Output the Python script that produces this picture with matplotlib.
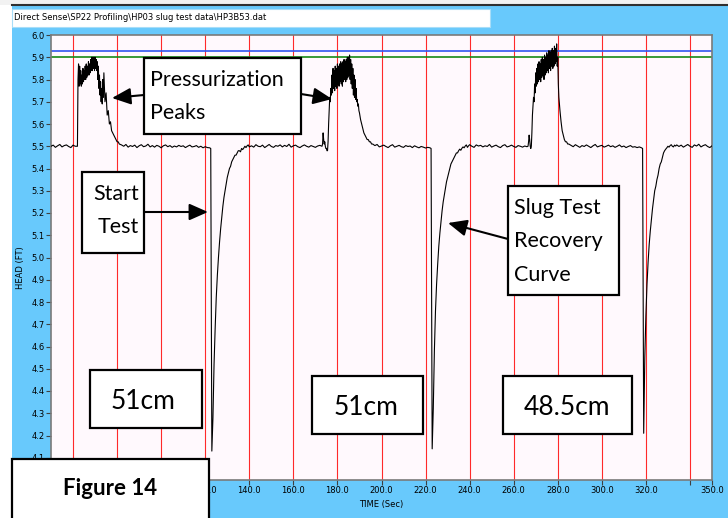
import matplotlib.pyplot as plt
from matplotlib.patches import Rectangle, FancyArrowPatch
import numpy as np

W, H = 728, 518

# head readings (ft) off the logger screen, one list per stretch of the record
base_1 = [5.500, 5.505, 5.495, 5.502, 5.508, 5.497, 5.503, 5.506, 5.499, 5.494, 5.505, 5.500]
peak_1 = [5.50, 5.80, 5.87, 5.77, 5.86, 5.78, 5.84, 5.77, 5.82, 5.78,
          5.85, 5.79, 5.84, 5.80, 5.86, 5.80, 5.87, 5.81, 5.86, 5.82,
          5.88, 5.82, 5.87, 5.83, 5.89, 5.84, 5.90, 5.84, 5.90, 5.85,
          5.90, 5.84, 5.90, 5.85, 5.89, 5.84, 5.88, 5.80, 5.86, 5.76,
          5.82, 5.73, 5.79, 5.70, 5.76, 5.69, 5.80, 5.72]
fall_1 = [5.83, 5.70, 5.74, 5.64, 5.66, 5.60, 5.61, 5.57, 5.56, 5.55,
          5.54, 5.53, 5.52, 5.52, 5.51]
base_2 = [5.506, 5.500, 5.508, 5.496, 5.503, 5.499, 5.505, 5.494, 5.502, 5.507,
          5.498, 5.501, 5.509, 5.497, 5.503, 5.496, 5.504, 5.500, 5.493, 5.502,
          5.506, 5.498, 5.503, 5.495, 5.501, 5.497, 5.504, 5.499, 5.502, 5.494,
          5.500, 5.505, 5.497, 5.499, 5.503, 5.495, 5.500, 5.493, 5.498, 5.494, 5.493]
slug_1 = [5.49, 4.13, 4.28, 4.52, 4.68, 4.82, 4.92, 5.00, 5.07, 5.13,
          5.18, 5.23, 5.27, 5.30, 5.33, 5.36, 5.38, 5.40, 5.41, 5.43,
          5.44, 5.45, 5.46, 5.46, 5.47, 5.48, 5.48, 5.475, 5.49, 5.485,
          5.492, 5.50, 5.494, 5.502, 5.506, 5.497]
base_3 = [5.502, 5.496, 5.507, 5.500, 5.498, 5.505, 5.494, 5.501, 5.508, 5.499,
          5.495, 5.503, 5.500, 5.506, 5.497, 5.504, 5.499, 5.509, 5.496, 5.502,
          5.505, 5.498, 5.494, 5.501, 5.506, 5.500, 5.496, 5.503, 5.499, 5.495,
          5.501, 5.504, 5.500]
peak_2 = [5.51, 5.56, 5.53, 5.51, 5.52, 5.50, 5.49, 5.49, 5.48, 5.48,
          5.52, 5.60, 5.66, 5.72, 5.70, 5.76, 5.73, 5.82, 5.74, 5.85,
          5.76, 5.84, 5.75, 5.86, 5.77, 5.85, 5.76, 5.87, 5.78, 5.86,
          5.77, 5.87, 5.79, 5.88, 5.78, 5.87, 5.77, 5.88, 5.79, 5.89,
          5.80, 5.88, 5.79, 5.89, 5.80, 5.90, 5.81, 5.90, 5.82, 5.91,
          5.80, 5.89, 5.78, 5.87, 5.76, 5.85, 5.73, 5.82, 5.72, 5.80,
          5.71, 5.76, 5.70, 5.71, 5.68, 5.69, 5.66]
fall_2 = [5.65, 5.62, 5.60, 5.58, 5.56, 5.55, 5.54, 5.53, 5.53, 5.52, 5.52, 5.51, 5.51]
base_4 = [5.503, 5.508, 5.497, 5.501, 5.505, 5.499, 5.494, 5.502, 5.507, 5.496,
          5.500, 5.504, 5.498, 5.495, 5.503, 5.499, 5.501, 5.494, 5.502, 5.497,
          5.493, 5.499, 5.496, 5.492, 5.495, 5.493]
slug_2 = [5.49, 4.14, 4.32, 4.58, 4.76, 4.88, 4.97, 5.05, 5.11, 5.16,
          5.21, 5.25, 5.28, 5.31, 5.34, 5.36, 5.38, 5.40, 5.42, 5.43,
          5.44, 5.45, 5.46, 5.47, 5.47, 5.48, 5.487, 5.482, 5.491, 5.497,
          5.493, 5.501, 5.506, 5.495, 5.502, 5.507]
base_5 = [5.500, 5.495, 5.506, 5.501, 5.504, 5.497, 5.502, 5.499, 5.508, 5.496,
          5.501, 5.505, 5.498, 5.494, 5.503, 5.507, 5.497, 5.500, 5.505, 5.499,
          5.495, 5.503, 5.500, 5.496, 5.501, 5.498]
peak_3 = [5.50, 5.52, 5.55, 5.53, 5.50, 5.49, 5.50, 5.56, 5.64, 5.68,
          5.72, 5.70, 5.78, 5.74, 5.83, 5.77, 5.85, 5.78, 5.87, 5.79,
          5.88, 5.80, 5.87, 5.79, 5.89, 5.81, 5.90, 5.82, 5.89, 5.80,
          5.91, 5.82, 5.90, 5.83, 5.92, 5.84, 5.91, 5.83, 5.93, 5.85,
          5.92, 5.84, 5.93, 5.86, 5.94, 5.85, 5.93, 5.86, 5.95, 5.87,
          5.94, 5.88, 5.96, 5.86, 5.90, 5.78]
fall_3 = [5.72, 5.66, 5.61, 5.57, 5.55, 5.53, 5.52, 5.52, 5.51, 5.51]
base_6 = [5.504, 5.498, 5.507, 5.501, 5.495, 5.503, 5.499, 5.506, 5.500, 5.494,
          5.502, 5.508, 5.497, 5.501, 5.504, 5.496, 5.500, 5.505, 5.498, 5.502,
          5.495, 5.500, 5.506, 5.497, 5.501, 5.494, 5.499, 5.503, 5.496, 5.498,
          5.494, 5.497, 5.493]
slug_3 = [5.49, 4.21, 4.55, 4.74, 4.88, 4.98, 5.06, 5.12, 5.17, 5.22,
          5.26, 5.30, 5.32, 5.35, 5.37, 5.40, 5.42, 5.43, 5.45, 5.47,
          5.48, 5.487, 5.493, 5.500, 5.496, 5.503, 5.507, 5.500, 5.497, 5.505,
          5.501, 5.506]
base_7 = [5.499, 5.505, 5.496, 5.502, 5.508, 5.500, 5.495, 5.506, 5.501, 5.509,
          5.497, 5.503, 5.507, 5.499, 5.494, 5.502]

# start time (s) and sample step (s) of each stretch above
pieceStart = [50.0, 62.0, 74.0, 82.0, 122.5, 141.0, 173.25, 190.0, 197.0,
              222.5, 241.0, 266.5, 280.5, 286.0, 318.5, 335.0]
pieceStep = [1.0, 0.25, 0.5, 1.0, 0.5, 1.0, 0.25, 0.5, 1.0,
             0.5, 1.0, 0.25, 0.5, 1.0, 0.5, 1.0]

limitBlue = 5.93
limitGreen = 5.90

# labels left of 120 s sit under the "Figure 14" box on the screen shot
xTicks = [60, 80, 100, 120, 140, 160, 180, 200, 220, 240, 260, 280, 300, 320, 340, 350]
xTickLabels = ['', '', '', '120.0', '140.0', '160.0', '180.0', '200.0',
               '220.0', '240.0', '260.0', '280.0', '300.0', '320.0', '', '350.0']
yTicks = [4.1, 4.2, 4.3, 4.4, 4.5, 4.6, 4.7, 4.8, 4.9, 5.0,
          5.1, 5.2, 5.3, 5.4, 5.5, 5.6, 5.7, 5.8, 5.9, 6.0]
gridTimes = [60, 80, 100, 120, 140, 160, 180, 200, 220, 240, 260, 280, 300, 320, 340]


def frac(x, y):
    # screen pixel (from top left) -> figure fraction
    return x / W, 1 - y / H


def addBox(fig, x0, y0, x1, y1, face='white', edge='black', lw=1.6, z=5):
    fx, fy = frac(x0, y1)
    fig.add_artist(Rectangle((fx, fy), (x1 - x0) / W, (y1 - y0) / H, transform=fig.transFigure,
                             facecolor=face, edgecolor=edge, lw=lw, zorder=z))


def addText(fig, x, y, s, size, ha='left', weight='normal'):
    fx, fy = frac(x, y)
    fig.text(fx, fy, s, fontsize=size, ha=ha, va='baseline', family='Lato',
             weight=weight, zorder=6)


def addArrow(fig, tail, tip):
    fig.add_artist(FancyArrowPatch(frac(*tail), frac(*tip), transform=fig.transFigure,
                                   arrowstyle='-|>,head_length=0.95,head_width=0.42',
                                   mutation_scale=12, lw=1.5, color='black',
                                   shrinkA=0, shrinkB=0, zorder=6))


def main():
    pieces = [base_1, peak_1, fall_1, base_2, slug_1, base_3, peak_2, fall_2, base_4,
              slug_2, base_5, peak_3, fall_3, base_6, slug_3, base_7]
    times = []
    heads = []
    for t0, dt, vals in zip(pieceStart, pieceStep, pieces):
        times.extend(t0 + dt * np.arange(len(vals)))
        heads.extend(vals)

    fig = plt.figure(figsize=(W / 100, H / 100), dpi=100)
    fig.patch.set_facecolor('#68C9FC')

    # window chrome
    addBox(fig, 0, 0, 12, H, face='white', edge='none', lw=0, z=1)
    addBox(fig, 0, 0, W, 5, face='#F2F2F2', edge='none', lw=0, z=1)
    fig.add_artist(plt.Line2D([12 / W, 1], [1 - 5 / H, 1 - 5 / H], transform=fig.transFigure,
                              color='#303030', lw=1.5, zorder=2))
    addBox(fig, 12, 9, 490, 27, face='white', edge='#A8DDF8', lw=0.8, z=2)
    fx, fy = frac(14, 18)
    fig.text(fx, fy, 'Direct Sense\\SP22 Profiling\\HP03 slug test data\\HP3B53.dat',
             fontsize=6, va='center', zorder=3)

    ax = fig.add_axes([51 / W, 1 - 480 / H, (712 - 51) / W, (480 - 35) / H])
    ax.set_facecolor('#FFF9FD')
    for t in gridTimes:
        ax.axvline(t, color='#FF2A2A', lw=0.8, zorder=1)
    ax.axhline(limitBlue, color='#2F55F0', lw=1.2, zorder=2)
    ax.axhline(limitGreen, color='#178A17', lw=1.2, zorder=2)
    ax.plot(times, heads, color='black', lw=0.8, zorder=3)

    ax.set_xlim(50, 350)
    ax.set_ylim(4.0, 6.0)
    ax.set_xticks(xTicks)
    ax.set_xticklabels(xTickLabels)
    ax.set_yticks(yTicks)
    ax.set_yticklabels(['%.1f' % v for v in yTicks])
    ax.tick_params(labelsize=6, length=3.6, width=0.8, color='#404040', pad=1)
    for s in ax.spines.values():
        s.set_color('#7A7A7A')
        s.set_linewidth(1.2)

    fx, fy = frac(381, 505)
    fig.text(fx, fy, 'TIME (Sec)', fontsize=6, ha='center', va='center')
    fx, fy = frac(20, 268)
    fig.text(fx, fy, 'HEAD (FT)', fontsize=6, ha='center', va='center', rotation=90)

    # callouts
    addBox(fig, 144, 58, 301, 134)
    addText(fig, 150, 86, 'Pressurization', 15.5)
    addText(fig, 150, 119, 'Peaks', 15.5)
    addArrow(fig, (144, 95), (112, 98))
    addArrow(fig, (301, 94), (332, 99))

    addBox(fig, 82, 172, 144, 253)
    addText(fig, 139, 200, 'Start', 15.5, ha='right')
    addText(fig, 139, 233, 'Test', 15.5, ha='right')
    addArrow(fig, (144, 212), (208, 212))

    addBox(fig, 508, 186, 619, 295)
    addText(fig, 514, 214, 'Slug Test', 15.5)
    addText(fig, 514, 247, 'Recovery', 15.5)
    addText(fig, 514, 281, 'Curve', 15.5)
    addArrow(fig, (508, 239), (448, 223))

    addBox(fig, 90, 370, 202, 428)
    addText(fig, 143, 409, '51cm', 19, ha='center')
    addBox(fig, 312, 376, 423, 434)
    addText(fig, 366, 415, '51cm', 19, ha='center')
    addBox(fig, 503, 376, 632, 434)
    addText(fig, 567, 415, '48.5cm', 19, ha='center')

    addBox(fig, 12, 459, 209, 530)
    addText(fig, 110, 495, 'Figure 14', 16, ha='center', weight='bold')

    fig.savefig('out.png', dpi=100, facecolor=fig.get_facecolor())


if __name__ == "__main__":
    main()
